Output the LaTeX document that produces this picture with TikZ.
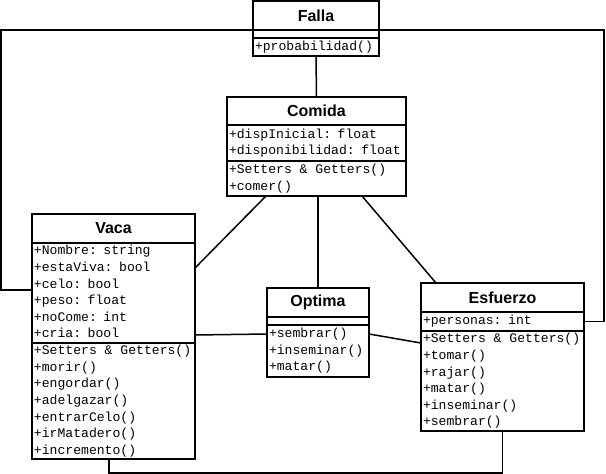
\documentclass[tikz,border=0pt]{standalone}
\usepackage{fontspec}
\setmainfont{Liberation Sans}
\newfontfamily\membfont{Liberation Mono}
\usetikzlibrary{positioning}
\newcommand\mrows[1]{\spaceskip=0.6em\relax\begin{tabular}{@{}l@{}}#1\end{tabular}}

\begin{document}
\begin{tikzpicture}[x=1pt, y=-1pt, line width=1.5pt,
    classname/.style={draw, outer sep=0pt, inner sep=0pt, anchor=north west, font=\bfseries\fontsize{16}{18}\selectfont, minimum height=29pt},
    members/.style={draw, outer sep=0pt, inner xsep=2pt, inner ysep=0pt, align=left, font=\membfont\fontsize{13.1}{16.6}\selectfont}]
    \path[use as bounding box] (0,0) rectangle (606,474);
    \node[classname, minimum width=126pt] (falla) at (253,1) {Falla};
    \node[members, text width=122pt, minimum height=8pt, below=0pt of falla] (fallaE) {};
    \node[members, text width=122pt, minimum height=18pt, below=0pt of fallaE] (fallaM) {\mrows{+probabilidad()}};
    \node[classname, minimum width=179pt, minimum height=28pt] (comida) at (227,97) {Comida};
    \node[members, text width=175pt, minimum height=36pt, below=0pt of comida] (comidaA) {\mrows{+dispInicial: float\\+disponibilidad: float}};
    \node[members, text width=175pt, minimum height=35pt, below=0pt of comidaA] (comidaM) {\mrows{+Setters \& Getters()\\+comer()}};
    \node[classname, minimum width=163pt] (vaca) at (32,214) {Vaca};
    \node[members, text width=159pt, minimum height=100pt, below=0pt of vaca] (vacaA) {\mrows{+Nombre: string\\+estaViva: bool\\+celo: bool\\+peso: float\\+noCome: int\\+cria: bool}};
    \node[members, text width=159pt, minimum height=115pt, below=0pt of vacaA] (vacaM) {\mrows{+Setters \& Getters()\\+morir()\\+engordar()\\+adelgazar()\\+entrarCelo()\\+irMatadero()\\+incremento()}};
    \node[classname, minimum width=102pt] (optima) at (267,288) {Optima};
    \node[members, text width=98pt, minimum height=8pt, below=0pt of optima] (optimaE) {};
    \node[members, text width=98pt, minimum height=52pt, below=0pt of optimaE] (optimaM) {\mrows{+sembrar()\\+inseminar()\\+matar()}};
    \node[classname, minimum width=163pt] (esfuerzo) at (421,283) {Esfuerzo};
    \node[members, text width=159pt, minimum height=19pt, below=0pt of esfuerzo] (esfuerzoA) {\mrows{+personas: int}};
    \node[members, text width=159pt, minimum height=100pt, below=0pt of esfuerzoA] (esfuerzoM) {\mrows{+Setters \& Getters()\\+tomar()\\+rajar()\\+matar()\\+inseminar()\\+sembrar()}};
    \draw (falla.south west) -- ++(-252,0) |- ([yshift=3pt]vacaA.west);
    \draw (falla.south east) -- ++(225,0) |- (esfuerzoA.east);
    \draw (fallaM.south) -- (comida.north);
    \draw ([xshift=-50.5pt]comidaM.south) -- ([yshift=25pt]vacaA.east);
    \draw (optima.north |- comidaM.south) -- (optima.north);
    \draw ([xshift=45.5pt]comidaM.south) -- ([xshift=15pt]esfuerzo.north west);
    \draw ([yshift=8pt]vacaA.south east) -- ([yshift=-9pt]optimaM.north west);
    \draw ([yshift=-9pt]optimaM.north east) -- ([yshift=-12pt]esfuerzoM.north west);
    \draw ([xshift=-4.5pt]vacaM.south) -- ++(0,14) -| (esfuerzoM.south);
\end{tikzpicture}
\end{document}
